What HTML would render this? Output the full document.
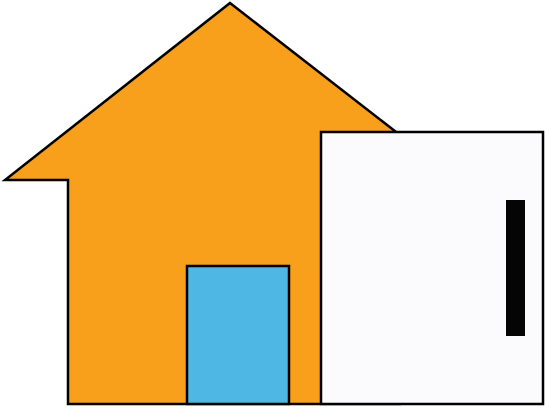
<!DOCTYPE html>
<html><head><meta charset="utf-8"><style>html,body{margin:0;padding:0;background:#fff;}svg{display:block;}</style></head>
<body>
<svg width="545" height="407" viewBox="0 0 545 407">
  <polygon points="230,3 400,135 400,404 68,404 68,180 5,180" fill="#F89F1C" stroke="#000" stroke-width="2.5" stroke-linejoin="miter"/>
  <rect x="187" y="266" width="102" height="138" fill="#4EB7E4" stroke="#000" stroke-width="2.5"/>
  <rect x="321" y="132" width="222" height="272" fill="#FBFBFD" stroke="#000" stroke-width="2.5"/>
  <rect x="506" y="200" width="19" height="136" fill="#050505"/>
</svg>
</body></html>
